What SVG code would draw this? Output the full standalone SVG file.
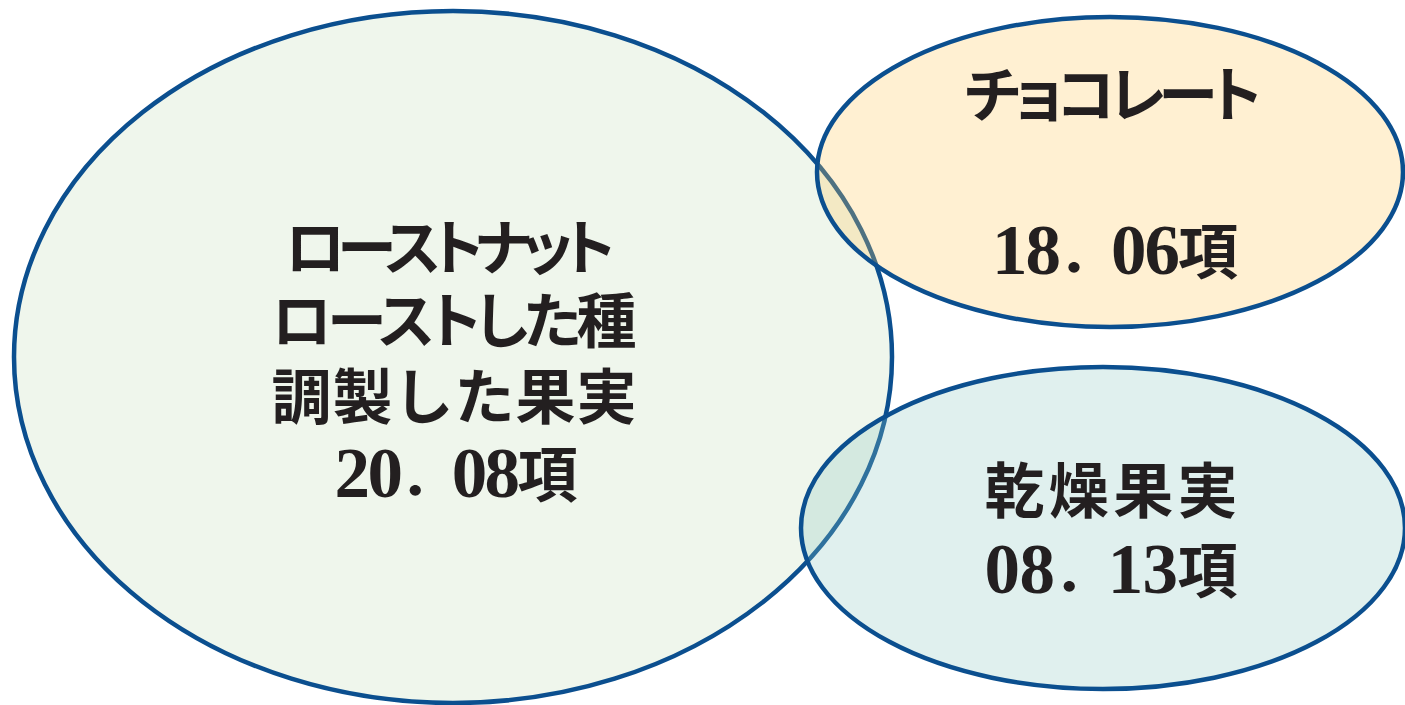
<svg xmlns="http://www.w3.org/2000/svg" width="1405" height="705" viewBox="0 0 1405 705">
<style>
.stroke{stroke:#0B4F8F;stroke-width:4.5}
.t{font-family:"Liberation Serif","Noto Sans CJK JP",serif;font-weight:700;font-size:60px;fill:#231F20;text-anchor:middle}
.p{font-feature-settings:"palt"}
.d{font-size:71px}
.dot{font-size:54px}
</style>
<rect width="1405" height="705" fill="#FFFFFF"/>
<g id="node-roast">
<ellipse class="stroke" cx="453" cy="357" rx="439" ry="346" fill="#EFF6EC"/>
<text class="t p" x="450" y="270" textLength="330" lengthAdjust="spacing">ローストナット</text>
<text class="t p" x="454" y="343" textLength="365" lengthAdjust="spacing">ローストした種</text>
<text class="t" x="454" y="419" textLength="365" lengthAdjust="spacing">調製した果実</text>
<text class="t" x="456" y="497" textLength="243" lengthAdjust="spacing"><tspan class="d">20</tspan><tspan class="dot">．</tspan><tspan class="d">08</tspan>項</text>
</g>
<g id="node-chocolate">
<ellipse class="stroke" cx="1110" cy="172" rx="293" ry="155" fill="#FFC95E" fill-opacity="0.28"/>
<text class="t p" x="1113" y="117" textLength="297" lengthAdjust="spacing">チョコレート</text>
<text class="t" x="1115" y="274" textLength="246" lengthAdjust="spacing"><tspan class="d">18</tspan><tspan class="dot">．</tspan><tspan class="d">06</tspan>項</text>
</g>
<g id="node-dried">
<ellipse class="stroke" cx="1103" cy="528" rx="302" ry="161" fill="#90C9C2" fill-opacity="0.28"/>
<text class="t" x="1111" y="513" font-size="62" textLength="253" lengthAdjust="spacing">乾燥果実</text>
<text class="t" x="1111" y="593" textLength="253" lengthAdjust="spacing"><tspan class="d">08</tspan><tspan class="dot">．</tspan><tspan class="d">13</tspan>項</text>
</g>
</svg>
